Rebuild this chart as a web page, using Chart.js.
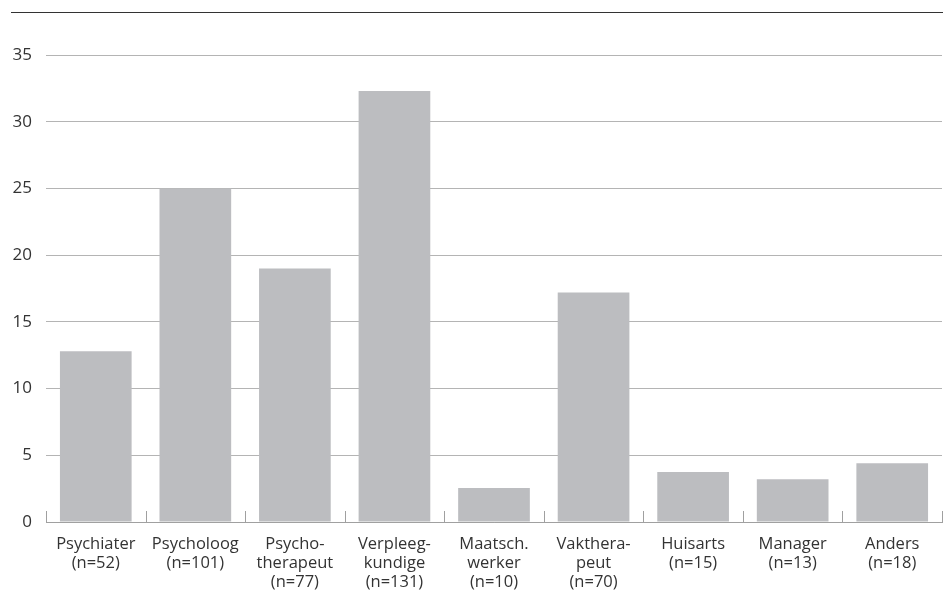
<!DOCTYPE html>
<html>
<head>
<meta charset="utf-8">
<script src="https://cdn.jsdelivr.net/npm/chart.js@4.4.1/dist/chart.umd.min.js"></script>
<style>
  html, body { margin: 0; padding: 0; background: #fff; }
  #wrap { position: relative; width: 943px; height: 596px; }
  #topline { position: absolute; left: 11px; right: 0; top: 12px; border-top: 1px solid #333; }
</style>
</head>
<body>
<div id="wrap">
  <div id="topline"></div>
  <canvas id="chart" width="943" height="596"></canvas>
</div>
<script>
// ---- data ----
const categories = [
    ["Psychiater", "(n=52)"],
    ["Psycholoog", "(n=101)"],
    ["Psycho-", "therapeut", "(n=77)"],
    ["Verpleeg-", "kundige", "(n=131)"],
    ["Maatsch.", "werker", "(n=10)"],
    ["Vakthera-", "peut", "(n=70)"],
    ["Huisarts", "(n=15)"],
    ["Manager", "(n=13)"],
    ["Anders", "(n=18)"]
];
const percentages = [12.8, 25.0, 19.0, 32.3, 2.55, 17.2, 3.75, 3.2, 4.4];
const yTicks = [0, 5, 10, 15, 20, 25, 30, 35];

const barGrey = "#bcbdc0";
const gridGrey = "#b4b4b4";
const textColor = "#333333";
const fontFamily = "'Open Sans', sans-serif";

// ---- small upward tick marks between categories ----
const categoryTicks = {
    id: 'categoryTicks',
    afterDraw(chart) {
        const ctx = chart.ctx;
        const x = chart.scales.x;
        const y0 = chart.scales.y.getPixelForValue(0);
        const half = (x.getPixelForValue(1) - x.getPixelForValue(0)) / 2;
        ctx.save();
        ctx.strokeStyle = "#a0a0a0";
        ctx.lineWidth = 1;
        ctx.beginPath();
        for (let i = 0; i <= categories.length; i++) {
            const px = Math.round(x.getPixelForValue(i) - half) + 0.5;
            ctx.moveTo(px, y0);
            ctx.lineTo(px, y0 - 11);
        }
        ctx.stroke();
        ctx.restore();
    }
};

new Chart(document.getElementById("chart"), {
    type: 'bar',
    data: {
        labels: categories,
        datasets: [{
            data: percentages,
            backgroundColor: barGrey,
            borderWidth: 0,
            categoryPercentage: 0.72,
            barPercentage: 1.0
        }]
    },
    options: {
        responsive: false,
        animation: false,
        layout: { padding: { left: 0, right: 1, top: 55, bottom: 0 } },
        plugins: {
            legend: { display: false },
            tooltip: { enabled: false }
        },
        scales: {
            x: {
                grid: { display: false },
                border: { display: true, color: "#a0a0a0", width: 1 },
                afterFit: (scale) => { scale.height = 74; },
                ticks: {
                    color: textColor,
                    padding: 5,
                    maxRotation: 0,
                    autoSkip: false,
                    font: { family: fontFamily, size: 16.5, lineHeight: '19px' }
                }
            },
            y: {
                min: 0,
                max: 35,
                afterBuildTicks: (scale) => { scale.ticks = yTicks.map(v => ({ value: v })); },
                afterFit: (scale) => { scale.width = 46; },
                grid: {
                    color: gridGrey,
                    drawTicks: false
                },
                border: { display: false },
                ticks: {
                    color: textColor,
                    padding: 14,
                    font: { family: fontFamily, size: 17 }
                }
            }
        }
    },
    plugins: [categoryTicks]
});
</script>
</body>
</html>
